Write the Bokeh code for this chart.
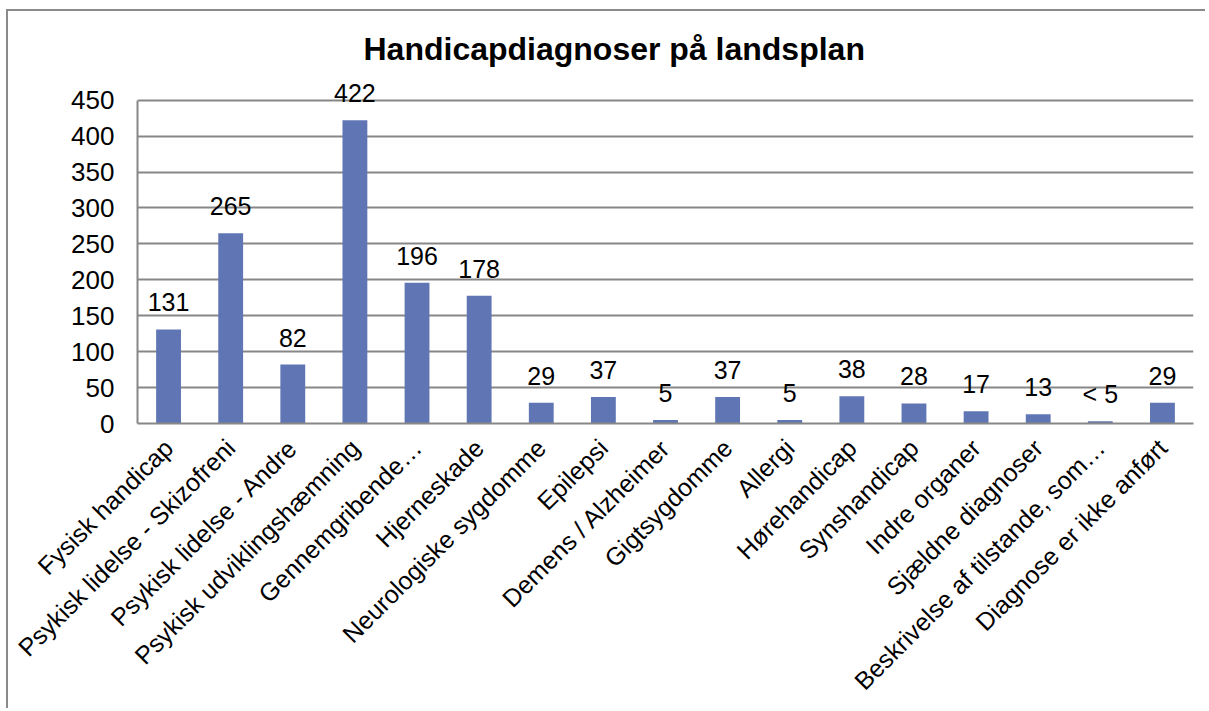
from bokeh.plotting import figure
from bokeh.models import ColumnDataSource, LabelSet, FixedTicker, Range1d
from bokeh.core.properties import value
from bokeh.embed import file_html
from bokeh.resources import INLINE
import math

categories = [
    "Fysisk handicap",
    "Psykisk lidelse - Skizofreni",
    "Psykisk lidelse - Andre",
    "Psykisk udviklingshæmning",
    "Gennemgribende…",
    "Hjerneskade",
    "Neurologiske sygdomme",
    "Epilepsi",
    "Demens / Alzheimer",
    "Gigtsygdomme",
    "Allergi",
    "Hørehandicap",
    "Synshandicap",
    "Indre organer",
    "Sjældne diagnoser",
    "Beskrivelse af tilstande, som…",
    "Diagnose er ikke anført",
]
values = [131, 265, 82, 422, 196, 178, 29, 37, 5, 37, 5, 38, 28, 17, 13, 3, 29]
value_labels = ["131", "265", "82", "422", "196", "178", "29", "37", "5", "37",
                "5", "38", "28", "17", "13", "< 5", "29"]
y_ticks = [0, 50, 100, 150, 200, 250, 300, 350, 400, 450]

TITLE = "Handicapdiagnoser på landsplan"
FONT = "Liberation Sans"
GRID = "#878787"
BAR = "#6076B4"

n = len(categories)
centers = [i + 0.5 for i in range(n)]
src = ColumnDataSource(dict(x=centers, cat=categories, val=values, lab=value_labels))

p = figure(
    x_range=Range1d(0, n),
    y_range=(0, 490),
    width=1199, height=699,
    output_backend="svg", toolbar_location=None,
    min_border_left=129, min_border_right=14,
    min_border_top=60, min_border_bottom=287,
)
p.styles = {"border-left": "2px solid #8a8a8a", "border-top": "2px solid #8a8a8a",
            "margin-left": "6px", "margin-top": "9px"}

p.title.text = TITLE
p.title.text_font = FONT
p.title.text_font_size = "32px"
p.title.text_font_style = "bold"
p.title.text_color = "black"
p.title.align = "left"
p.title.offset = 226
p.title.standoff = 10

p.vbar(x="x", top="val", width=0.4, source=src, color=BAR, line_color=None)

labels = LabelSet(x="x", y="val", text="lab", source=src, text_align="center",
                  text_baseline="middle", y_offset=27, text_font=value(FONT),
                  text_font_size="25px", text_color="black")
p.add_layout(labels)

p.outline_line_color = None
p.xgrid.grid_line_color = None
p.ygrid.grid_line_color = GRID
p.ygrid.grid_line_width = 2
p.yaxis.ticker = FixedTicker(ticks=y_ticks)
p.yaxis.bounds = (0, 450)

p.xaxis.ticker = FixedTicker(ticks=centers)
p.xaxis.major_label_overrides = {c: t for c, t in zip(centers, categories)}

for ax in (p.xaxis, p.yaxis):
    ax.axis_line_color = GRID
    ax.axis_line_width = 2
    ax.major_tick_line_color = None
    ax.minor_tick_line_color = None
    ax.major_label_text_font = FONT
    ax.major_label_text_color = "black"

p.yaxis.major_label_text_font_size = "26px"
p.yaxis.major_label_standoff = 17
p.xaxis.major_label_text_font_size = "25px"
p.xaxis.major_label_orientation = math.pi / 4
p.xaxis.major_label_standoff = 14

open("out.html", "w").write(file_html(p, INLINE))
